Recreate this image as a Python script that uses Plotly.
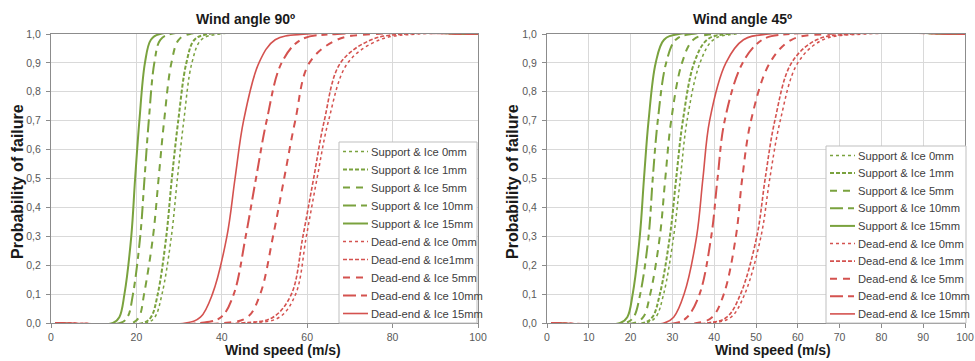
import plotly.graph_objects as go

p_levels = [0, 0.02, 0.1, 0.3, 0.5, 0.7, 0.9, 0.98, 1.0]
wind_start = 1
wind_end = 100

# ---- Wind angle 90° : wind speed (m/s) at each probability level ----
w90_support_0 = [22.3, 24.3, 26.0, 28.2, 29.6, 31.1, 33.0, 35.2, 39.5]
w90_support_1 = [21.5, 23.4, 25.0, 27.0, 28.3, 29.8, 31.7, 33.6, 37.0]
w90_support_5 = [19.0, 20.6, 21.8, 23.9, 25.2, 26.5, 28.2, 29.9, 32.5]
w90_support_10 = [16.2, 17.9, 19.2, 20.9, 21.9, 22.9, 24.2, 25.6, 28.0]
w90_support_15 = [14.5, 16.0, 17.2, 18.8, 19.7, 20.7, 22.0, 23.4, 25.5]
w90_dead_0 = [46.0, 53.5, 57.3, 59.8, 62.3, 65.0, 69.5, 77.0, 86.0]
w90_dead_1 = [44.5, 52.0, 56.3, 59.0, 61.5, 64.0, 67.8, 75.0, 83.0]
w90_dead_5 = [40.5, 46.0, 49.0, 52.0, 54.6, 57.2, 60.5, 67.0, 76.0]
w90_dead_10 = [35.0, 39.8, 42.8, 45.6, 48.0, 50.5, 54.0, 58.5, 67.0]
w90_dead_15 = [31.5, 35.0, 37.8, 41.2, 43.1, 45.1, 48.7, 52.5, 60.0]

# ---- Wind angle 45° ----
w45_support_0 = [23.5, 26.0, 27.9, 30.3, 31.9, 33.5, 36.6, 39.8, 45.0]
w45_support_1 = [23.0, 25.2, 27.0, 29.4, 30.9, 32.5, 35.2, 38.3, 43.0]
w45_support_5 = [20.8, 23.0, 24.7, 27.0, 28.3, 29.7, 32.3, 35.0, 39.5]
w45_support_10 = [18.8, 20.7, 22.3, 24.3, 25.3, 26.5, 28.5, 30.8, 34.5]
w45_support_15 = [17.5, 19.2, 20.5, 22.2, 23.2, 24.3, 26.0, 28.0, 31.5]
w45_dead_0 = [39.5, 44.0, 47.3, 51.2, 53.3, 55.8, 60.0, 66.0, 76.0]
w45_dead_1 = [38.3, 43.0, 46.3, 50.2, 52.2, 54.5, 58.5, 64.5, 73.0]
w45_dead_5 = [35.8, 39.5, 42.3, 45.2, 46.7, 48.8, 53.3, 58.5, 67.0]
w45_dead_10 = [30.8, 33.5, 36.5, 39.3, 40.8, 42.5, 46.8, 51.5, 58.0]
w45_dead_15 = [28.0, 30.3, 32.8, 35.8, 37.3, 38.9, 42.8, 47.0, 53.0]

names_90 = ["Support & Ice 0mm", "Support & Ice 1mm", "Support & Ice 5mm",
            "Support & Ice 10mm", "Support & Ice 15mm", "Dead-end & Ice 0mm",
            "Dead-end & Ice1mm", "Dead-end & Ice 5mm", "Dead-end & Ice 10mm",
            "Dead-end & Ice 15mm"]
names_45 = ["Support & Ice 0mm", "Support & Ice 1mm", "Support & Ice 5mm",
            "Support & Ice 10mm", "Support & Ice 15mm", "Dead-end & Ice 0mm",
            "Dead-end & Ice 1mm", "Dead-end & Ice 5mm", "Dead-end & Ice 10mm",
            "Dead-end & Ice 15mm"]

x_ticks_90 = [0, 20, 40, 60, 80, 100]
x_ticks_45 = [0, 10, 20, 30, 40, 50, 60, 70, 80, 90, 100]
y_ticks = [0.0, 0.1, 0.2, 0.3, 0.4, 0.5, 0.6, 0.7, 0.8, 0.9, 1.0]

GREEN = "#7aa23e"
RED = "#d4524f"
styles = [
    (GREEN, "dot", 1.5), (GREEN, "4px,2px", 2.0), (GREEN, "7px,6px", 2.0),
    (GREEN, "13px,5px,6px,5px", 2.0), (GREEN, "solid", 2.0),
    (RED, "dot", 1.5), (RED, "4px,2px", 1.6), (RED, "7px,6px", 2.0),
    (RED, "13px,5px,6px,5px", 2.0), (RED, "solid", 1.6),
]

data_90 = [w90_support_0, w90_support_1, w90_support_5, w90_support_10, w90_support_15,
           w90_dead_0, w90_dead_1, w90_dead_5, w90_dead_10, w90_dead_15]
data_45 = [w45_support_0, w45_support_1, w45_support_5, w45_support_10, w45_support_15,
           w45_dead_0, w45_dead_1, w45_dead_5, w45_dead_10, w45_dead_15]

FONT = "Liberation Sans, Arial, sans-serif"
W, H = 975, 361


def px_x(v):
    return v / W


def px_y(v):
    return 1 - v / H


fig = go.Figure()


def add_set(data, xa, ya):
    for speeds, (col, dash, wdt) in zip(data, styles):
        xs = [wind_start] + list(speeds) + [wind_end]
        ys = [0.0] + list(p_levels) + [1.0]
        fig.add_trace(go.Scatter(
            x=xs, y=ys, mode="lines", xaxis=xa, yaxis=ya, showlegend=False,
            line=dict(color=col, dash=dash, width=wdt, shape="spline", smoothing=1.0),
            hoverinfo="skip"))


add_set(data_90, "x", "y")
add_set(data_45, "x2", "y2")

axis_common = dict(
    showline=True, linecolor="#8c8c8c", linewidth=1, mirror=True,
    showgrid=True, gridcolor="#d9d9d9", gridwidth=1, zeroline=False,
    ticks="outside", ticklen=4, tickcolor="#8c8c8c",
    tickfont=dict(family=FONT, size=10.5, color="#595959"),
)

fig.update_layout(
    width=W, height=H,
    margin=dict(l=0, r=0, t=0, b=0, autoexpand=False),
    paper_bgcolor="white", plot_bgcolor="white",
    separators=",.",
    showlegend=False,
    xaxis=dict(domain=[px_x(51), px_x(478)], range=[0, 100], tickvals=x_ticks_90,
               anchor="y", **axis_common),
    yaxis=dict(domain=[px_y(323), px_y(34)], range=[0, 1], tickvals=y_ticks,
               tickformat=".1f", anchor="x", ticklabelstandoff=3, **axis_common),
    xaxis2=dict(domain=[px_x(547), px_x(965)], range=[0, 100], tickvals=x_ticks_45,
                anchor="y2", **axis_common),
    yaxis2=dict(domain=[px_y(323), px_y(34)], range=[0, 1], tickvals=y_ticks,
                tickformat=".1f", anchor="x2", ticklabelstandoff=3, **axis_common),
)

# ---- Custom legends (box, line samples, texts) placed as in the reference ----
shapes = []
annotations = []


def add_legend(names, box_l, box_t, box_r, box_b, first_y, step):
    shapes.append(dict(type="rect", xref="paper", yref="paper",
                       x0=px_x(box_l), x1=px_x(box_r), y0=px_y(box_b), y1=px_y(box_t),
                       line=dict(color="#bfbfbf", width=1), fillcolor="white", layer="above"))
    for i, (name, (col, dash, wdt)) in enumerate(zip(names, styles)):
        yc = first_y + step * i
        shapes.append(dict(type="line", xref="paper", yref="paper",
                           x0=px_x(box_l + 4), x1=px_x(box_l + 29), y0=px_y(yc), y1=px_y(yc),
                           line=dict(color=col, dash=dash, width=wdt), layer="above"))
        annotations.append(dict(text=name, x=px_x(box_l + 30), y=px_y(yc), xanchor="left",
                                yanchor="middle", font=dict(family=FONT, size=11.2, color="#404040")))


add_legend(names_90, 339, 142, 477, 323, 151.5, 18.0)
add_legend(names_45, 826, 146, 966, 323, 155.5, 17.6)

ann_font = dict(family=FONT, size=14, color="#1a1a1a")
x_title_font = dict(family=FONT, size=14, color="#1a1a1a")
y_title_font = dict(family=FONT, size=16, color="#1a1a1a")
annotations += [
    dict(text="<b>Wind angle 90º</b>", x=px_x(246), y=px_y(19), font=ann_font),
    dict(text="<b>Wind angle 45º</b>", x=px_x(742), y=px_y(19), font=ann_font),
    dict(text="<b>Wind speed (m/s)</b>", x=px_x(283), y=px_y(350), font=x_title_font),
    dict(text="<b>Wind speed (m/s)</b>", x=px_x(773), y=px_y(350), font=x_title_font),
    dict(text="<b>Probability of failure</b>", x=px_x(18), y=px_y(182), textangle=-90, font=y_title_font),
    dict(text="<b>Probability of failure</b>", x=px_x(513), y=px_y(182), textangle=-90, font=y_title_font),
]
for a in annotations:
    a.update(xref="paper", yref="paper", showarrow=False)
    a.setdefault("xanchor", "center")
    a.setdefault("yanchor", "middle")
fig.update_layout(shapes=shapes, annotations=annotations)

fig.write_html(
    "out.html",
    config={"displayModeBar": False, "staticPlot": True},
    post_script="document.body.style.margin='0';document.body.style.padding='0';document.body.style.overflow='hidden';",
)
